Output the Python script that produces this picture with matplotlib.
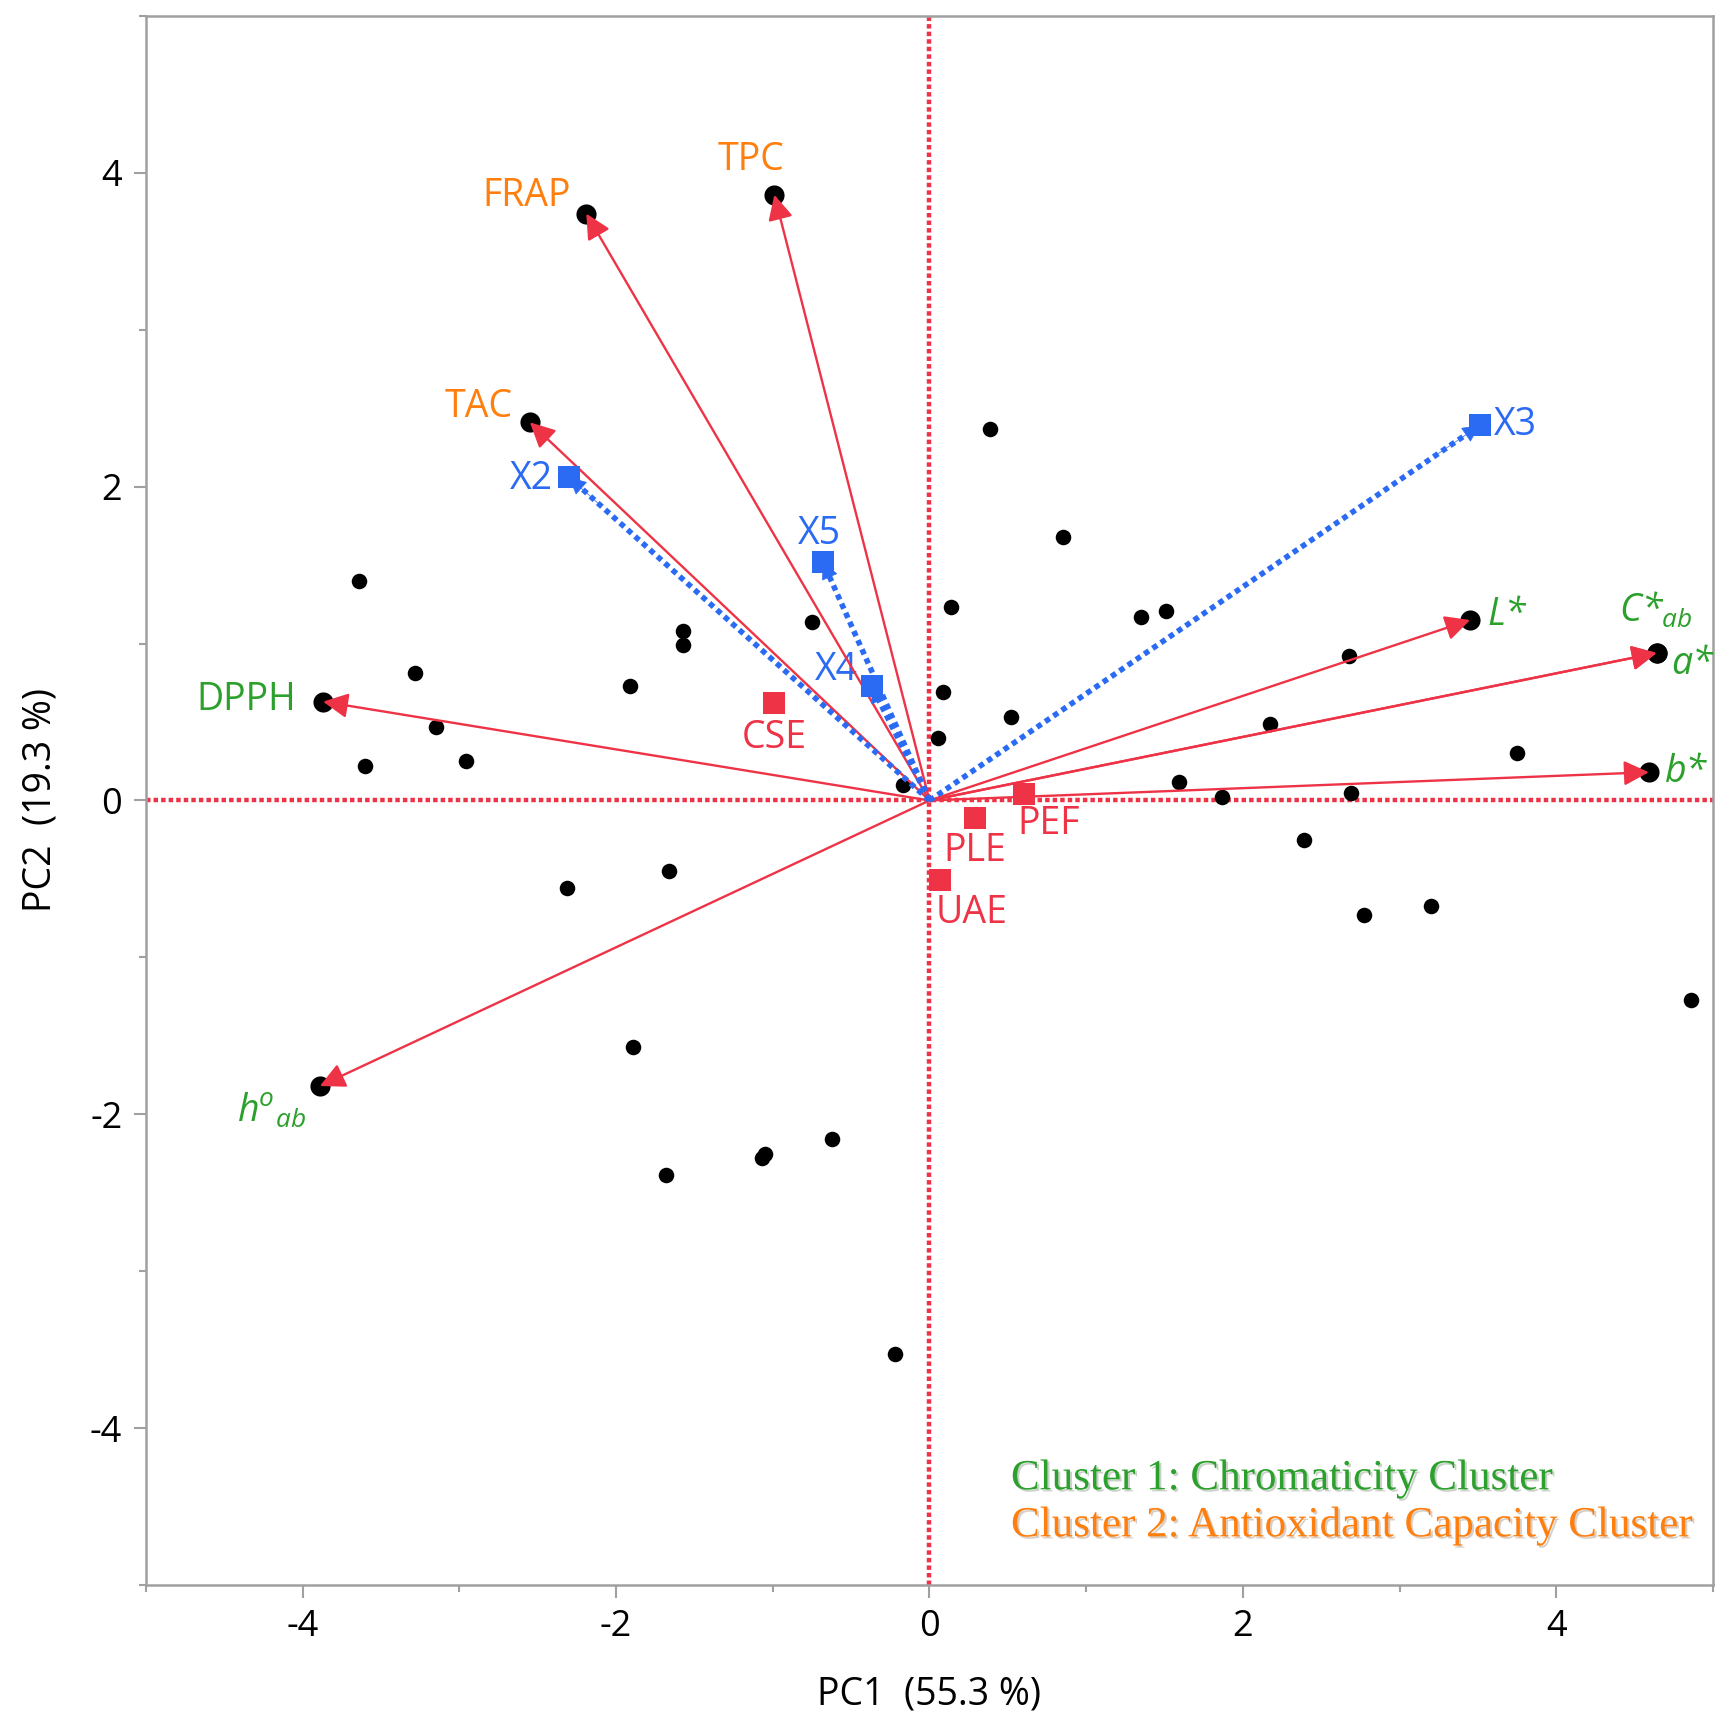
import matplotlib
matplotlib.use('Agg')
import matplotlib.pyplot as plt
import matplotlib.patheffects as pe

plt.rcParams['font.family'] = ['Open Sans', 'DejaVu Sans']
plt.rcParams['mathtext.fontset'] = 'custom'
plt.rcParams['mathtext.it'] = 'Open Sans:italic'
plt.rcParams['mathtext.rm'] = 'Open Sans'
plt.rcParams['axes.unicode_minus'] = False

RED = '#EE3347'
BLUE = '#2B6BF3'
GREEN = '#2CA02C'
ORANGE = '#FF7F0E'

# scores (black dots)
score_x = [-3.64, -3.28, -3.15, -3.60, -2.96, -1.91, -1.57, -1.57, -0.75, -0.17,
           0.14, 0.385, 0.086, 0.054, 0.52, 0.85, 1.35, 1.51, 1.59, 1.865,
           2.17, 2.68, 2.69, 2.39, 3.75, 2.77, 3.20, 4.86, -2.31, -1.66,
           -1.89, -1.68, -1.07, -1.05, -0.62, -0.22]
score_y = [1.40, 0.81, 0.47, 0.22, 0.25, 0.73, 1.08, 0.99, 1.14, 0.10,
           1.23, 2.37, 0.69, 0.40, 0.53, 1.68, 1.17, 1.21, 0.12, 0.02,
           0.485, 0.92, 0.05, -0.25, 0.30, -0.73, -0.67, -1.27, -0.555, -0.45,
           -1.57, -2.39, -2.28, -2.25, -2.16, -3.53]

# response loadings (red arrows)
var_names = ['TPC', 'FRAP', 'TAC', 'DPPH', 'hab', 'L*', 'a*', 'C*ab', 'b*']
var_x = [-0.99, -2.19, -2.55, -3.87, -3.89, 3.45, 4.64, 4.64, 4.59]
var_y = [3.86, 3.74, 2.41, 0.63, -1.82, 1.15, 0.94, 0.94, 0.18]

# factor loadings (blue dotted arrows)
fac_names = ['X2', 'X3', 'X4', 'X5']
fac_x = [-2.30, 3.51, -0.37, -0.68]
fac_y = [2.06, 2.39, 0.73, 1.52]

# extraction method levels (red squares)
lev_names = ['CSE', 'PEF', 'PLE', 'UAE']
lev_x = [-0.99, 0.605, 0.29, 0.064]
lev_y = [0.62, 0.04, -0.11, -0.51]

fig = plt.figure(figsize=(17.33, 17.30), dpi=100)
ax = fig.add_axes([0.0842, 0.0838, 0.9043, 0.907])
ax.set_xlim(-5, 5)
ax.set_ylim(-5, 5)

ax.axhline(0, color=RED, lw=3.2, ls=(0, (1.0, 0.7)), zorder=1)
ax.axvline(0, color=RED, lw=3.2, ls=(0, (1.0, 0.7)), zorder=1)

ax.scatter(score_x, score_y, s=125, color='black', zorder=3, linewidths=0)
ax.scatter(var_x, var_y, s=210, color='black', zorder=3, linewidths=0)

for x, y in zip(var_x, var_y):
    ax.annotate('', xy=(x, y), xytext=(0, 0),
                arrowprops=dict(arrowstyle='-|>', color=RED, lw=1.7,
                                mutation_scale=38, shrinkA=0, shrinkB=0),
                zorder=4)

for x, y in zip(fac_x, fac_y):
    ax.plot([0, x], [0, y], color=BLUE, lw=4, ls=(0, (1.0, 0.8)), zorder=5)
    ax.annotate('', xy=(x, y), xytext=(0.92 * x, 0.92 * y),
                arrowprops=dict(arrowstyle='-|>', color=BLUE, lw=0.5,
                                mutation_scale=28, shrinkA=0, shrinkB=0),
                zorder=5)
ax.scatter(fac_x, fac_y, s=260, marker='s', color=BLUE, zorder=6, linewidths=0)
ax.scatter(lev_x, lev_y, s=260, marker='s', color=RED, zorder=6, linewidths=0)

fs = 27
# response labels
ax.text(-1.14, 3.96, 'TPC', color=ORANGE, fontsize=fs, ha='center', va='bottom')
ax.text(-2.29, 3.85, 'FRAP', color=ORANGE, fontsize=fs, ha='right', va='center')
ax.text(-2.66, 2.51, 'TAC', color=ORANGE, fontsize=fs, ha='right', va='center')
ax.text(-4.04, 0.64, 'DPPH', color=GREEN, fontsize=fs, ha='right', va='center')
ax.text(-3.98, -1.98, r'h$^{o}$$_{ab}$', color=GREEN, fontsize=fs, ha='right',
        va='center', style='italic')
ax.text(3.56, 1.18, 'L*', color=GREEN, fontsize=fs, ha='left', va='center', style='italic')
ax.text(4.40, 1.21, r'C*$_{ab}$', color=GREEN, fontsize=fs, ha='left', va='center',
        style='italic')
ax.text(4.73, 0.87, 'a*', color=GREEN, fontsize=fs, ha='left', va='center', style='italic')
ax.text(4.69, 0.18, 'b*', color=GREEN, fontsize=fs, ha='left', va='center', style='italic')

# factor labels
ax.text(-2.40, 2.05, 'X2', color=BLUE, fontsize=fs, ha='right', va='center')
ax.text(3.60, 2.39, 'X3', color=BLUE, fontsize=fs, ha='left', va='center')
ax.text(-0.46, 0.83, 'X4', color=BLUE, fontsize=fs, ha='right', va='center')
ax.text(-0.70, 1.70, 'X5', color=BLUE, fontsize=fs, ha='center', va='center')

# level labels
ax.text(-0.99, 0.40, 'CSE', color=RED, fontsize=fs, ha='center', va='center')
ax.text(0.56, -0.15, 'PEF', color=RED, fontsize=fs, ha='left', va='center')
ax.text(0.09, -0.32, 'PLE', color=RED, fontsize=fs, ha='left', va='center')
ax.text(0.04, -0.72, 'UAE', color=RED, fontsize=fs, ha='left', va='center')

shadow = [pe.SimplePatchShadow(offset=(1.5, -1.5), alpha=0.22), pe.Normal()]
ax.text(0.52, -4.39, 'Cluster 1: Chromaticity Cluster', color=GREEN, fontsize=31,
        family='Liberation Serif', ha='left', va='baseline', path_effects=shadow)
ax.text(0.52, -4.69, 'Cluster 2: Antioxidant Capacity Cluster', color=ORANGE, fontsize=31,
        family='Liberation Serif', ha='left', va='baseline', path_effects=shadow)

ax.set_xlabel('PC1  (55.3 %)', fontsize=27, labelpad=22)
ax.set_ylabel('PC2  (19.3 %)', fontsize=27, labelpad=22)

ax.set_xticks([-4, -2, 0, 2, 4])
ax.set_yticks([-4, -2, 0, 2, 4])
ax.set_xticks([-5, -3, -1, 1, 3, 5], minor=True)
ax.set_yticks([-5, -3, -1, 1, 3, 5], minor=True)
ax.tick_params(which='major', length=9, width=1.5, color='#A0A0A0', labelsize=26, pad=8)
ax.tick_params(which='minor', length=5, width=1.5, color='#A0A0A0')
for s in ax.spines.values():
    s.set_color('#A0A0A0')
    s.set_linewidth(1.8)

fig.savefig('out.png', dpi=100)
